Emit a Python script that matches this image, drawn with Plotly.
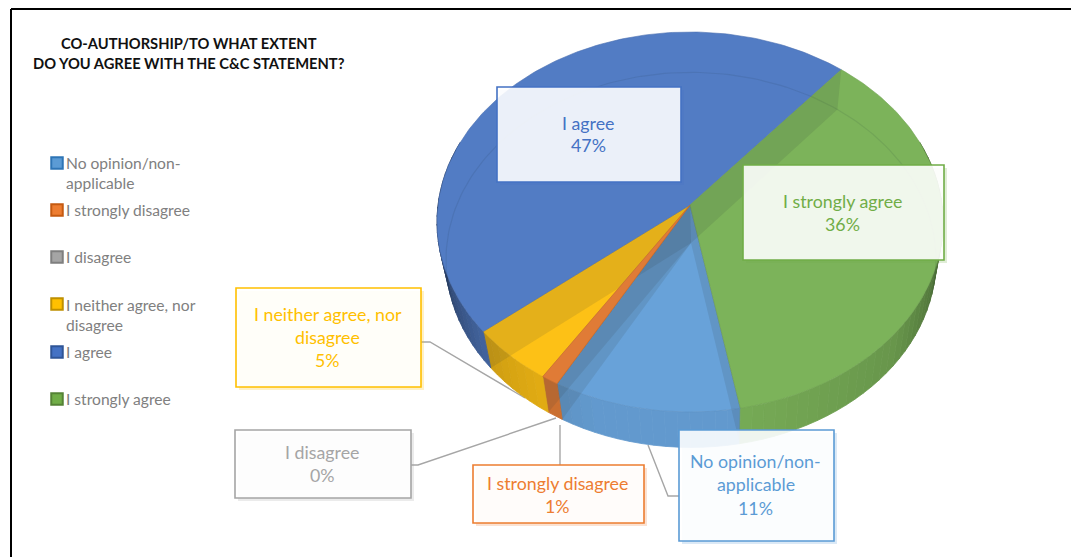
import numpy as np
import plotly.graph_objects as go

# ---------- data ----------
categories = ["No opinion/non-applicable", "I strongly disagree", "I disagree",
              "I neither agree, nor disagree", "I agree", "I strongly agree"]
values = [11, 1, 0, 5, 47, 36]
legend_lines = [["No opinion/non-", "applicable"], ["I strongly disagree"], ["I disagree"],
                ["I neither agree, nor", "disagree"], ["I agree"], ["I strongly agree"]]
label_lines = [["No opinion/non-", "applicable"], ["I strongly disagree"], ["I disagree"],
               ["I neither agree, nor", "disagree"], ["I agree"], ["I strongly agree"]]
title_lines = ["CO-AUTHORSHIP/TO WHAT EXTENT", "DO YOU AGREE WITH THE C&C STATEMENT?"]

# ---------- style ----------
top_colors = ["#68a2d9", "#e07b36", "#a5a5a5", "#fdc116", "#527cc4", "#7cb35a"]
line_colors = ["#5b9bd5", "#ed7d31", "#a5a5a5", "#ffc000", "#4472c4", "#70ad47"]
swatch_inner = ["#5b9bd5", "#ed7d31", "#a5a5a5", "#ffc000", "#4472c4", "#70ad47"]
swatch_border = ["#2e75b6", "#c55a11", "#7f7f7f", "#bf9000", "#2f5597", "#548235"]
FONT = "Lato"

# ---------- layout (pixels) ----------
START_DEG = -79.5
TOP = dict(cx=690, cy=205, A=252, B=188.5, k=0.0895)
BOT = dict(cx=691, cy=243, A=244, B=186, k=0.09)
boxes = [(679, 430, 834, 541), (473, 465, 644, 523), (235, 430, 411, 498),
         (236, 288, 421, 387), (497, 87, 681, 182), (743, 165, 944, 260)]
label_y = [[461, 484, 508], [483, 506], [452, 475], [314, 337, 360], [123, 145], [201, 224]]
label_dx = -1
leaders = [[(648, 445), (668, 496), (679, 496)],
           [(560, 425), (560, 465)],
           [(411, 465), (418, 465), (556, 418)],
           [(421, 342), (430, 342), (525, 398)]]
legend_y = [[163, 183], [210], [257], [305, 325], [352], [399]]
swatch_y = [163, 210, 257, 304, 352, 399]


def proj(p, deg):
    r = np.radians(deg)
    x, y = np.cos(r), np.sin(r)
    d = 1 + p["k"] * y
    return p["cx"] + p["A"] * x / d, p["cy"] - p["B"] * y / d


def scale(hex_color, f):
    c = [int(hex_color[i:i + 2], 16) for i in (1, 3, 5)]
    return "rgb(%d,%d,%d)" % tuple(min(255, int(v * f)) for v in c)


def poly(xs, ys, fill, line=None, width=0, name=None):
    return go.Scatter(x=list(xs), y=list(ys), mode="lines", fill="toself", fillcolor=fill,
                      line=dict(color=line or fill, width=width), hoverinfo="skip",
                      showlegend=False, name=name)


def top_slice(s, e, col, cat):
    arc = np.linspace(s, e, max(3, int(abs(s - e))))
    pts = [proj(TOP, d) for d in arc]
    xs = [TOP["cx"]] + [p[0] for p in pts] + [TOP["cx"]]
    ys = [TOP["cy"]] + [p[1] for p in pts] + [TOP["cy"]]
    return poly(xs, ys, col, scale(col, 0.9), 0.6, cat)


fig = go.Figure()

# leader lines, beneath the pie
for pts in leaders:
    fig.add_trace(go.Scatter(x=[p[0] for p in pts], y=[p[1] for p in pts], mode="lines",
                             line=dict(color="#a6a6a6", width=1.4), hoverinfo="skip", showlegend=False))

# angular extents, clockwise from the start angle
ends = START_DEG - np.cumsum(values) * 3.6
starts = np.concatenate([[START_DEG], ends[:-1]])

# outer wall: short quads along the rim, shaded by angle
shade_deg = [-200, -180, -160, -140, -110, -78, -40, -15, 0, 30]
shade_val = [0.42, 0.42, 0.6, 0.82, 0.95, 0.95, 0.84, 0.62, 0.45, 0.45]
for s, e, col, v in zip(starts, ends, top_colors, values):
    if v == 0:
        continue
    if s < -200:
        s, e = s + 360, e + 360
    a = min(s, 20)
    b = max(e, -200)
    n = max(1, int((a - b) / 2.5))
    grid = np.linspace(a, b, n + 1)
    for g0, g1 in zip(grid[:-1], grid[1:]):
        t0, t1 = proj(TOP, g0), proj(TOP, g1)
        b0, b1 = proj(BOT, g0), proj(BOT, g1)
        f = float(np.interp((g0 + g1) / 2, shade_deg, shade_val))
        c = scale(col, f)
        fig.add_trace(poly([t0[0], t1[0], b1[0], b0[0], t0[0]],
                           [t0[1], t1[1], b1[1], b0[1], t0[1]], c, c, 0.8))

# top face slices
for s, e, col, v, cat in zip(starts, ends, top_colors, values, categories):
    if v == 0:
        continue
    fig.add_trace(top_slice(s, e, col, cat))

# inner (radial) walls, seen through the translucent top
for d, v in zip(starts, values):
    if v == 0:
        continue
    t = proj(TOP, d)
    b = proj(BOT, d)
    fig.add_trace(poly([TOP["cx"], t[0], b[0], BOT["cx"], TOP["cx"]],
                       [TOP["cy"], t[1], b[1], BOT["cy"], TOP["cy"]], "rgba(50,60,60,0.12)", width=0))

# thin slices stay clean on top of the inner walls
for s, e, col, v, cat in zip(starts, ends, top_colors, values, categories):
    if 0 < v < 2:
        fig.add_trace(top_slice(s, e, col, cat))

# bottom face rim seen through the top
back = np.linspace(-15, 195, 140)
bp = [proj(BOT, d) for d in back]
fig.add_trace(go.Scatter(x=[p[0] for p in bp], y=[p[1] for p in bp], mode="lines",
                         line=dict(color="rgba(30,50,60,0.10)", width=1.2),
                         hoverinfo="skip", showlegend=False))

shapes = []
annotations = []

# frame
for x0, y0, x1, y1 in [(11, 9, 1071, 9), (11, 9, 11, 557)]:
    shapes.append(dict(type="line", x0=x0, y0=y0, x1=x1, y1=y1, xref="x", yref="y",
                       line=dict(color="#000000", width=2)))

# data-label boxes
for i, (x0, y0, x1, y1) in enumerate(boxes):
    shapes.append(dict(type="rect", x0=x0 + 3, y0=y0 + 3, x1=x1 + 3, y1=y1 + 3, xref="x", yref="y",
                       fillcolor=line_colors[i], opacity=0.22, line=dict(width=0)))
    shapes.append(dict(type="rect", x0=x0, y0=y0, x1=x1, y1=y1, xref="x", yref="y",
                       fillcolor="rgba(255,255,255,0.89)", line=dict(color=line_colors[i], width=1.6)))
    texts = label_lines[i] + ["%d%%" % values[i]]
    for txt, y in zip(texts, label_y[i]):
        annotations.append(dict(x=(x0 + x1) / 2 + label_dx, y=y, text=txt, showarrow=False,
                                xref="x", yref="y", xanchor="center", yanchor="middle",
                                font=dict(family=FONT, size=17.8, color=line_colors[i])))

# legend
fig.add_trace(go.Scatter(x=[57] * len(categories), y=swatch_y, mode="markers",
                         marker=dict(symbol="square", size=11.5, color=swatch_inner,
                                     line=dict(color=swatch_border, width=2)),
                         hoverinfo="skip", showlegend=False))
for lines, ys in zip(legend_lines, legend_y):
    for txt, y in zip(lines, ys):
        annotations.append(dict(x=64, y=y, text=txt, showarrow=False, xref="x", yref="y",
                                xanchor="left", yanchor="middle",
                                font=dict(family=FONT, size=15.6, color="#808080")))

# title
for txt, y in zip(title_lines, [43, 63]):
    annotations.append(dict(x=189, y=y, text="<b>%s</b>" % txt, showarrow=False, xref="x", yref="y",
                            xanchor="center", yanchor="middle",
                            font=dict(family=FONT, size=14.7, color="#111111")))

fig.update_layout(
    width=1071, height=557, margin=dict(l=0, r=0, t=0, b=0),
    paper_bgcolor="#ffffff", plot_bgcolor="#ffffff", showlegend=False,
    xaxis=dict(range=[0, 1071], visible=False, fixedrange=True),
    yaxis=dict(range=[557, 0], visible=False, fixedrange=True),
    shapes=shapes, annotations=annotations,
)
fig.write_html("out.html", config={"displayModeBar": False},
               post_script="document.body.style.margin='0';document.body.style.overflow='hidden';")
